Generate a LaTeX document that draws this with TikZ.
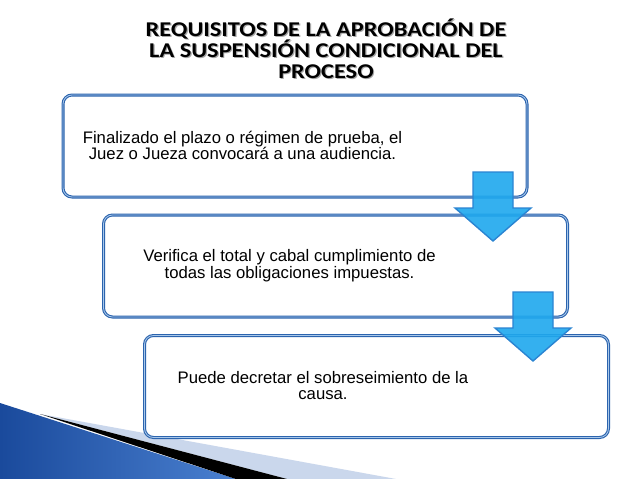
\documentclass[tikz,border=0pt]{standalone}
\usepackage{fontspec}
\setmainfont{Liberation Sans}
\newfontfamily\titulofont[FakeStretch=1.16]{Carlito}
\newcommand\titulolineas{\setlength\lineskiplimit{-20pt}\setlength\lineskip{0pt}}
\definecolor{bordeazul}{HTML}{2C64AE}
\definecolor{bordeclaro}{HTML}{A9C8EA}
\definecolor{flechaazul}{HTML}{1FA8EE}
\definecolor{flechaborde}{HTML}{2A84D2}
\definecolor{franjaclara}{HTML}{CAD7EC}
\definecolor{azuloscuro}{HTML}{1A4A9C}
\definecolor{azulmedio}{HTML}{4A80D0}

\begin{document}
\begin{tikzpicture}[x=1pt,y=-1pt,
  caja/.style={draw=bordeazul, double=bordeclaro, double distance=0.8pt, line width=1.1pt, rounded corners=9pt, fill=white, minimum width=464pt, minimum height=102pt, inner sep=0pt},
  texto/.style={font=\fontsize{16.7}{15.5}\selectfont, align=center, inner sep=0pt},
  titulo/.style={font=\titulofont\bfseries\fontsize{21}{21}\selectfont\titulolineas, align=center, inner sep=0pt, anchor=north},
  flecha/.style={draw=flechaborde, line width=1.4pt, fill=flechaazul, fill opacity=0.9, line join=miter}]
\useasboundingbox[fill=white] (0,0) rectangle (638,479);

%franjas de abajo
\shade[left color=azuloscuro, right color=azulmedio] (0,403) -- (236,479) -- (0,479) -- cycle;
\fill[franjaclara] (40,414) -- (396,479) -- (287,479) -- cycle;
\fill[black] (40,414) -- (287,479) -- (236,479) -- cycle;

%titulo con sombra
\node[titulo, text=black!35] (sombra) at (327.2,19.4) {REQUISITOS DE LA APROBACIÓN DE\\LA SUSPENSIÓN CONDICIONAL DEL\\PROCESO};
\node[titulo] (tit) at (326,18.2) {REQUISITOS DE LA APROBACIÓN DE\\LA SUSPENSIÓN CONDICIONAL DEL\\PROCESO};

%cajas
\node[caja] (caja1) at (295,146) {};
\node[caja] (caja2) at (335.5,266) {};
\node[caja] (caja3) at (376.5,386.5) {};

%textos
\node[texto] (texto1) at (242.5,145.5) {Finalizado el plazo o régimen de prueba, el\\Juez o Jueza convocará a una audiencia.};
\node[texto] (texto2) at (289.5,265.5) {Verifica el total y cabal cumplimiento de\\todas las obligaciones impuestas.};
\node[texto] (texto3) at (323,385.5) {Puede decretar el sobreseimiento de la\\causa.};

%flechas
\coordinate (f1a) at (473,172); \coordinate (f1b) at (513,172); \coordinate (f1c) at (513,208); \coordinate (f1d) at (531,208); \coordinate (f1e) at (493,241); \coordinate (f1f) at (455,208); \coordinate (f1g) at (473,208);
\coordinate (f2a) at (513,292); \coordinate (f2b) at (553,292); \coordinate (f2c) at (553,328); \coordinate (f2d) at (571,328); \coordinate (f2e) at (533,361); \coordinate (f2f) at (495,328); \coordinate (f2g) at (513,328);
\draw[flecha] (f1a) -- (f1b) -- (f1c) -- (f1d) -- (f1e) -- (f1f) -- (f1g) -- cycle;
\draw[flecha] (f2a) -- (f2b) -- (f2c) -- (f2d) -- (f2e) -- (f2f) -- (f2g) -- cycle;
\end{tikzpicture}
\end{document}
